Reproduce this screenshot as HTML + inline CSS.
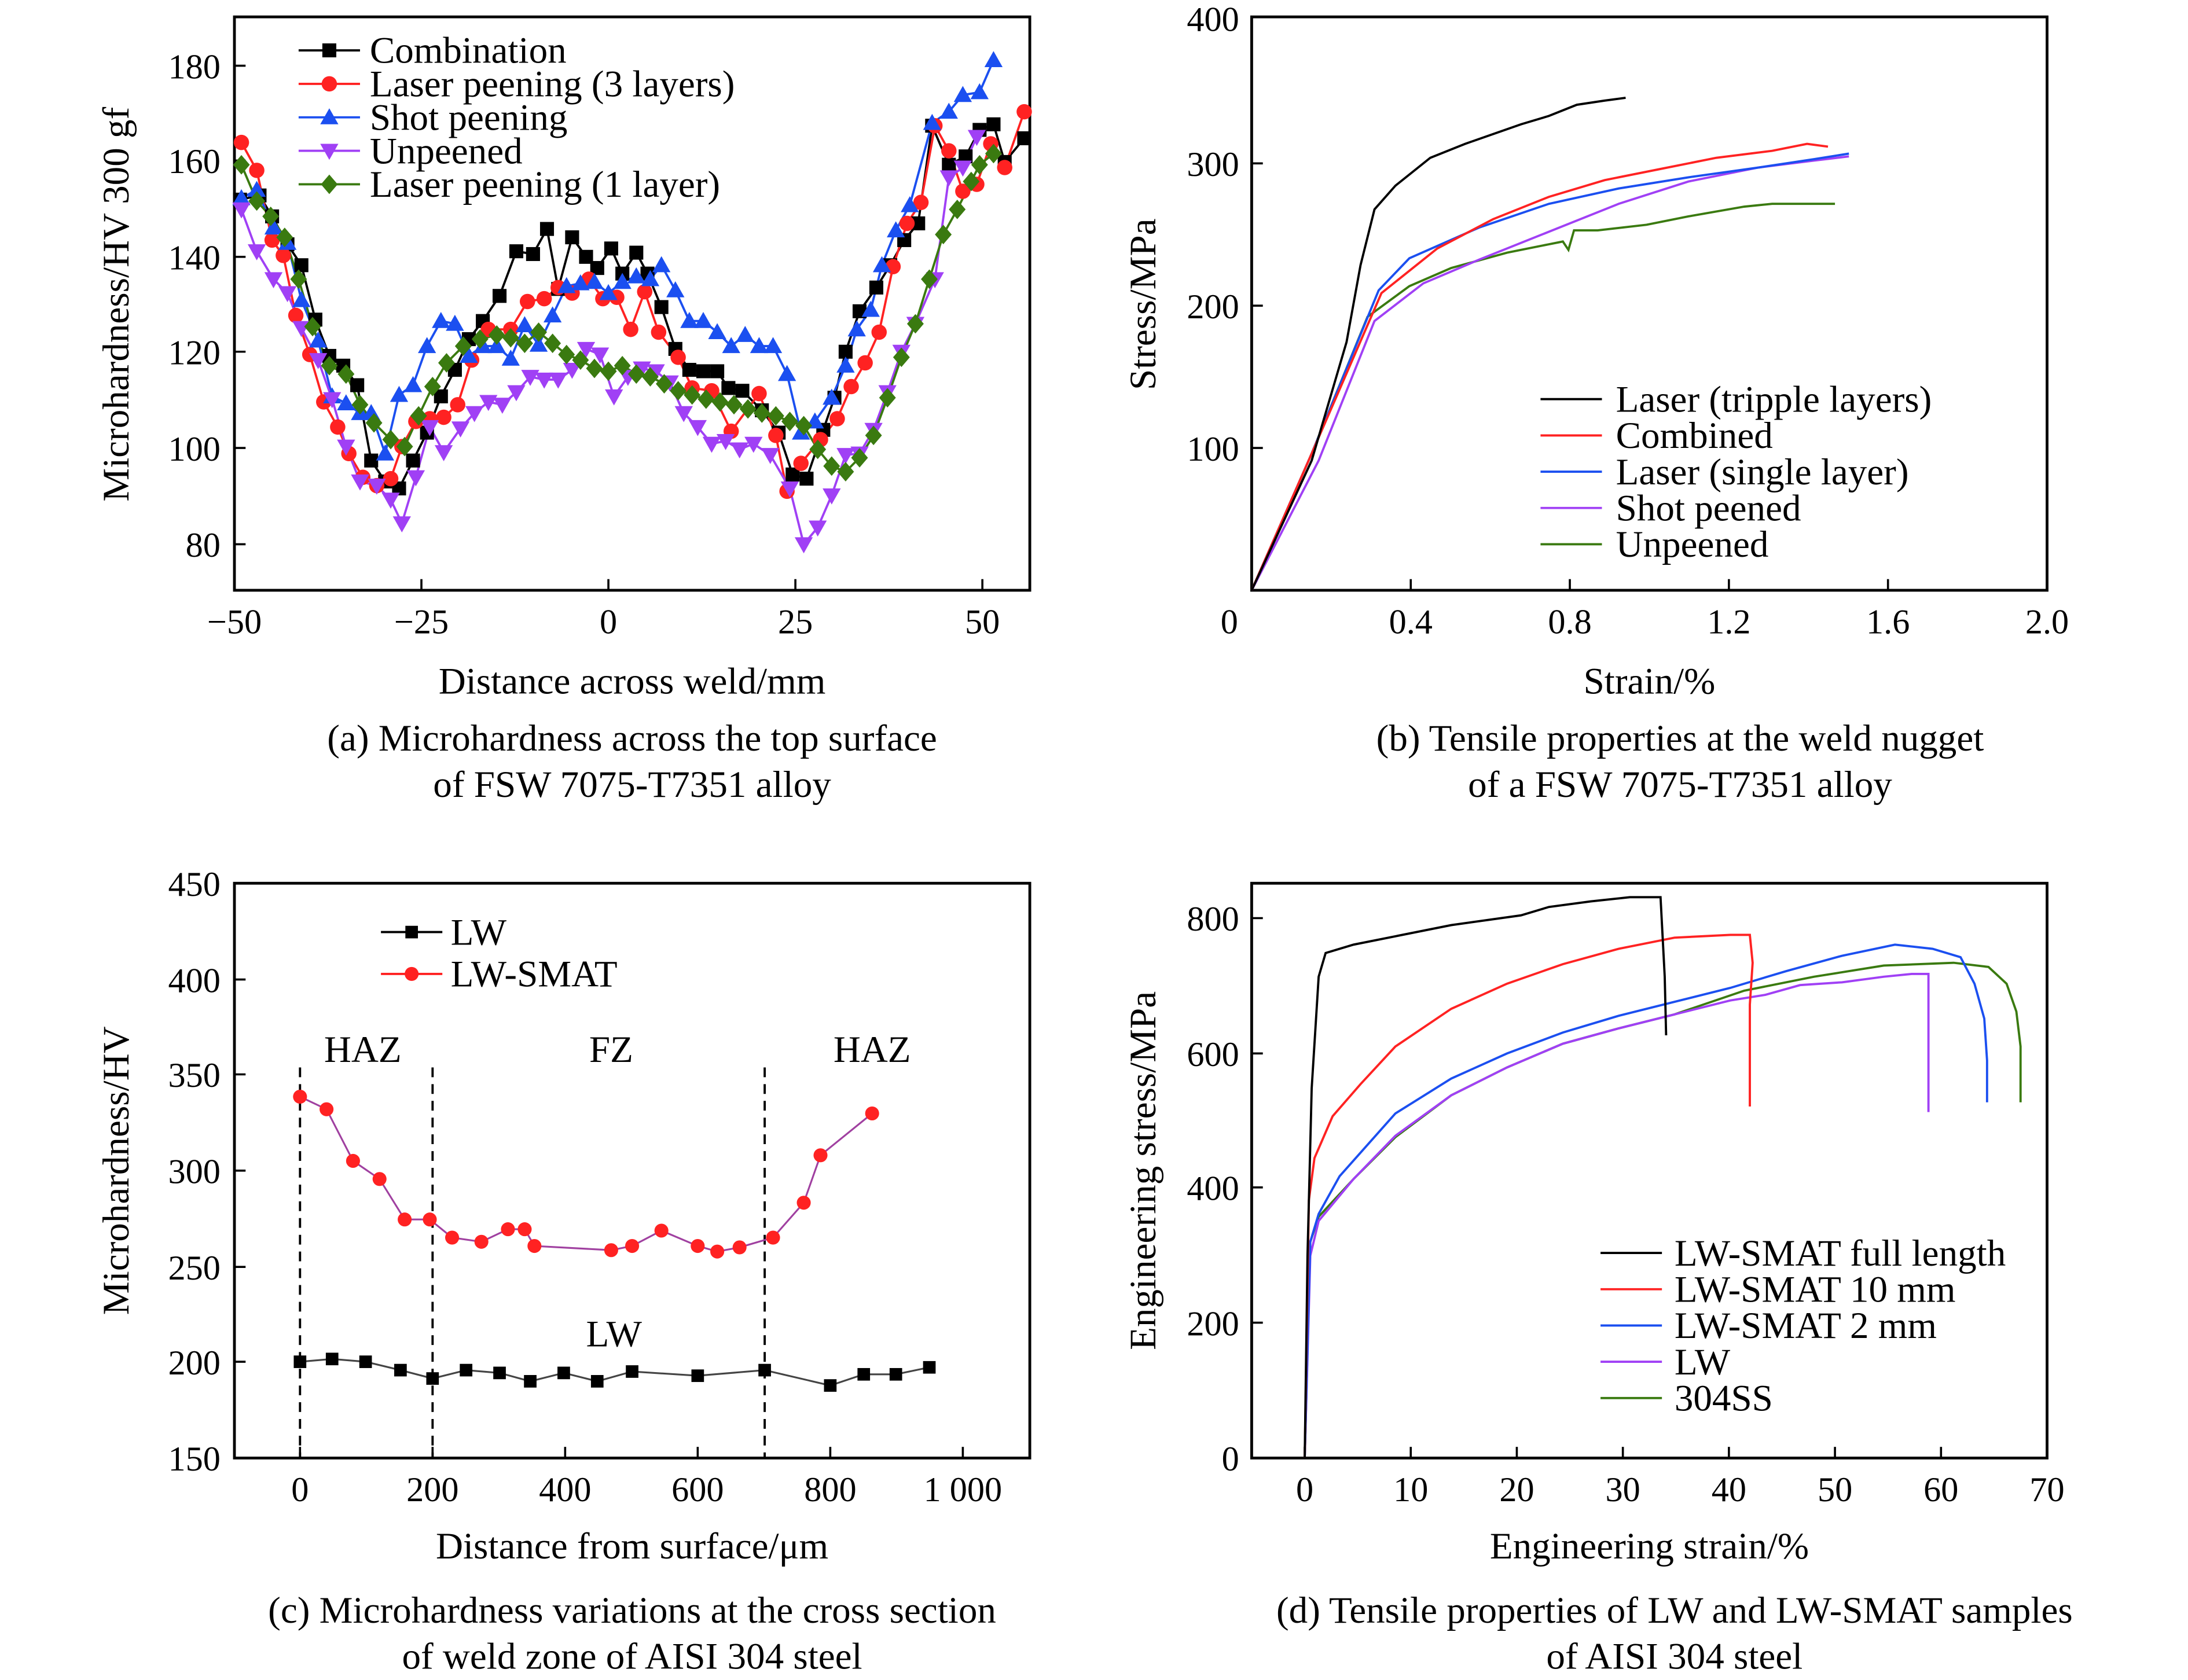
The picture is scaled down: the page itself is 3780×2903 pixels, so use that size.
<!DOCTYPE html>
<html><head><meta charset="utf-8"><style>
html,body{margin:0;padding:0;background:#fff}
svg{display:block}
text{font-family:"Liberation Serif",serif;fill:#000}
</style></head><body>
<svg width="3780" height="2903" viewBox="0 0 1568 1204" xmlns="http://www.w3.org/2000/svg">
<defs>
<rect id="sq" x="-5" y="-5" width="10" height="10" fill="#000"/>
<circle id="ci" r="5.5" fill="#f22"/>
<path id="tu" d="M0,-6.5 L6.5,5 L-6.5,5Z" fill="#1b4ff0"/>
<path id="td" d="M0,6.5 L6.5,-5 L-6.5,-5Z" fill="#a040f5"/>
<path id="di" d="M0,-7 L6,0 L0,7 L-6,0Z" fill="#3a7a10"/>
<rect id="sq2" x="-4.5" y="-4.5" width="9" height="9" fill="#000"/>
<circle id="ci2" r="5" fill="#f22"/>
</defs>
<g font-size="25">
<!-- ===== Panel a ===== -->
<rect x="168" y="12" width="570" height="411" fill="none" stroke="#000" stroke-width="2"/>
<g stroke="#000" stroke-width="1.5">
<line x1="168" y1="47" x2="176" y2="47"/><line x1="168" y1="115" x2="176" y2="115"/><line x1="168" y1="184" x2="176" y2="184"/><line x1="168" y1="252" x2="176" y2="252"/><line x1="168" y1="321" x2="176" y2="321"/><line x1="168" y1="390" x2="176" y2="390"/>
<line x1="302" y1="423" x2="302" y2="415"/><line x1="436" y1="423" x2="436" y2="415"/><line x1="570" y1="423" x2="570" y2="415"/><line x1="704" y1="423" x2="704" y2="415"/>
</g>
<g text-anchor="end"><text x="158" y="56">180</text><text x="158" y="124">160</text><text x="158" y="193">140</text><text x="158" y="261">120</text><text x="158" y="330">100</text><text x="158" y="399">80</text></g>
<g text-anchor="middle"><text x="168" y="454">−50</text><text x="302" y="454">−25</text><text x="436" y="454">0</text><text x="570" y="454">25</text><text x="704" y="454">50</text></g>
<text x="453" y="497" text-anchor="middle" font-size="27">Distance  across weld/mm</text>
<text transform="translate(92,218) rotate(-90)" text-anchor="middle" font-size="27">Microhardness/HV 300 gf</text>
<text x="453" y="538" text-anchor="middle" font-size="27">(a) Microhardness across the top surface</text>
<text x="453" y="571" text-anchor="middle" font-size="27">of FSW 7075-T7351 alloy</text>

<g fill="none" stroke-width="1.6">
<polyline id="pk" stroke="#000" points="172,143 186,140 195,155 206,175 216,190 226,229 236,255 246,262 256,276 266,330 276,345 286,350 296,330 306,310 316,284 326,265 336,243 346,230 358,212 370,180 382,182 392,164 400,207 410,170 420,184 428,192 438,178 446,196 456,181 464,196 474,220 484,250 494,265 504,266 514,266 522,278 532,280 546,294 558,310 568,340 578,343 590,308 598,285 606,252 616,223 628,206 638,190 648,172 658,160 668,90 680,118 692,112 702,93 712,89 720,116 734,99"/>
<polyline id="pr" stroke="#f22" points="173,102 184,122 195,172 203,183 212,226 222,254 232,288 242,306 250,325 260,342 270,348 280,343 288,320 298,302 308,300 318,299 328,290 338,258 350,236 366,236 378,216 390,214 400,206 410,210 422,200 432,214 442,213 452,236 462,209 472,238 486,256 496,278 510,280 524,309 544,282 556,312 564,352 574,332 588,315 600,300 610,277 620,260 630,238 640,191 650,160 660,145 670,90 680,108 690,137 700,132 710,103 720,120 734,80"/>
<polyline id="pb" stroke="#1b4ff0" points="173,142 184,136 196,163 206,174 216,215 228,244 238,284 248,289 258,296 266,296 276,325 286,283 296,276 306,248 316,230 326,232 336,255 346,248 356,248 366,257 376,233 386,247 396,226 406,205 416,203 426,202 436,210 446,202 456,198 466,200 474,190 484,208 494,230 504,230 514,238 524,248 534,240 544,248 554,248 564,268 574,310 584,302 596,285 606,262 614,236 624,222 632,190 642,165 652,147 668,88 680,80 690,68 702,66 712,43"/>
<polyline id="pp" stroke="#a040f5" points="173,150 184,180 196,200 206,210 216,235 228,258 238,286 248,320 258,345 270,348 280,358 288,375 298,342 308,306 318,324 330,307 340,296 350,288 360,290 370,281 380,270 390,272 400,272 410,265 420,250 430,254 440,284 450,270 460,264 470,266 480,274 490,296 500,306 510,318 520,316 530,322 540,318 552,326 566,350 576,390 586,378 596,355 606,326 616,325 626,308 636,281 646,252 656,232 670,200 680,127 690,120 700,98"/>
<polyline id="pg" stroke="#3a7a10" points="173,118 184,144 194,155 204,170 214,200 224,234 236,262 248,268 258,290 268,303 280,315 290,320 300,298 310,277 320,260 332,248 344,243 356,240 366,242 376,246 386,238 396,246 406,254 416,258 426,264 436,266 446,262 456,268 466,270 476,275 486,280 496,283 506,286 516,288 526,290 536,293 546,296 556,298 566,302 576,305 586,322 596,334 606,338 616,328 626,312 636,285 646,256 656,232 666,200 676,168 686,150 696,130 702,118 712,110"/>
</g>
<g id="mk"></g>
<!-- legend a -->
<g stroke-width="1.6">
<line x1="214" y1="36" x2="258" y2="36" stroke="#000"/><use href="#sq" x="236" y="36"/>
<line x1="214" y1="60" x2="258" y2="60" stroke="#f22"/><use href="#ci" x="236" y="60"/>
<line x1="214" y1="84" x2="258" y2="84" stroke="#1b4ff0"/><use href="#tu" x="236" y="84"/>
<line x1="214" y1="108" x2="258" y2="108" stroke="#a040f5"/><use href="#td" x="236" y="108"/>
<line x1="214" y1="132" x2="258" y2="132" stroke="#3a7a10"/><use href="#di" x="236" y="132"/>
</g>
<g font-size="27"><text x="265" y="45">Combination</text><text x="265" y="69">Laser peening (3 layers)</text><text x="265" y="93">Shot peening</text><text x="265" y="117">Unpeened</text><text x="265" y="141">Laser peening (1 layer)</text></g>

<!-- ===== Panel b ===== -->
<rect x="897" y="12" width="570" height="411" fill="none" stroke="#000" stroke-width="2"/>
<g stroke="#000" stroke-width="1.5">
<line x1="897" y1="321" x2="905" y2="321"/><line x1="897" y1="219" x2="905" y2="219"/><line x1="897" y1="117" x2="905" y2="117"/>
<line x1="1011" y1="423" x2="1011" y2="415"/><line x1="1125" y1="423" x2="1125" y2="415"/><line x1="1239" y1="423" x2="1239" y2="415"/><line x1="1353" y1="423" x2="1353" y2="415"/>
</g>
<g text-anchor="end"><text x="888" y="22">400</text><text x="888" y="126">300</text><text x="888" y="228">200</text><text x="888" y="330">100</text></g>
<g text-anchor="middle"><text x="881" y="454">0</text><text x="1011" y="454">0.4</text><text x="1125" y="454">0.8</text><text x="1239" y="454">1.2</text><text x="1353" y="454">1.6</text><text x="1467" y="454">2.0</text></g>
<text x="1182" y="497" text-anchor="middle" font-size="27">Strain/%</text>
<text transform="translate(828,218) rotate(-90)" text-anchor="middle" font-size="27">Stress/MPa</text>
<text x="1204" y="538" text-anchor="middle" font-size="27">(b) Tensile properties at the weld nugget</text>
<text x="1204" y="571" text-anchor="middle" font-size="27">of a FSW 7075-T7351 alloy</text>
<g fill="none" stroke-width="1.6">
<polyline stroke="#3a7a10" points="897,423 940,325 980,227 1010,205 1040,192 1080,181 1110,175 1120,173 1124,179 1128,165 1145,165 1180,161 1210,155 1250,148 1270,146 1295,146 1315,146"/>
<polyline stroke="#a040f5" points="897,423 945,330 985,230 1020,203 1060,186 1110,166 1160,146 1210,130 1260,120 1300,115 1325,112"/>
<polyline stroke="#1b4ff0" points="897,423 940,325 988,208 1010,185 1060,163 1110,146 1160,135 1210,127 1260,120 1300,114 1325,110"/>
<polyline stroke="#f22" points="897,423 940,325 990,210 1030,178 1070,157 1110,141 1150,129 1190,121 1230,113 1270,108 1295,103 1310,105"/>
<polyline stroke="#000" points="897,423 940,330 965,245 975,190 985,150 1000,133 1025,113 1050,103 1070,96 1090,89 1110,83 1130,75 1150,72 1165,70"/>
</g>
<g stroke-width="1.6">
<line x1="1104" y1="286" x2="1148" y2="286" stroke="#000"/><line x1="1104" y1="312" x2="1148" y2="312" stroke="#f22"/><line x1="1104" y1="338" x2="1148" y2="338" stroke="#1b4ff0"/><line x1="1104" y1="364" x2="1148" y2="364" stroke="#a040f5"/><line x1="1104" y1="390" x2="1148" y2="390" stroke="#3a7a10"/>
</g>
<g font-size="27"><text x="1158" y="295">Laser (tripple layers)</text><text x="1158" y="321">Combined</text><text x="1158" y="347">Laser (single layer)</text><text x="1158" y="373">Shot peened</text><text x="1158" y="399">Unpeened</text></g>

<!-- ===== Panel c ===== -->
<rect x="168" y="633" width="570" height="412" fill="none" stroke="#000" stroke-width="2"/>
<g stroke="#000" stroke-width="1.5">
<line x1="168" y1="702" x2="176" y2="702"/><line x1="168" y1="770" x2="176" y2="770"/><line x1="168" y1="839" x2="176" y2="839"/><line x1="168" y1="908" x2="176" y2="908"/><line x1="168" y1="976" x2="176" y2="976"/>
<line x1="215" y1="1045" x2="215" y2="1037"/><line x1="310" y1="1045" x2="310" y2="1037"/><line x1="405" y1="1045" x2="405" y2="1037"/><line x1="500" y1="1045" x2="500" y2="1037"/><line x1="595" y1="1045" x2="595" y2="1037"/><line x1="690" y1="1045" x2="690" y2="1037"/>
</g>
<g text-anchor="end"><text x="158" y="642">450</text><text x="158" y="711">400</text><text x="158" y="779">350</text><text x="158" y="848">300</text><text x="158" y="917">250</text><text x="158" y="985">200</text><text x="158" y="1054">150</text></g>
<g text-anchor="middle"><text x="215" y="1076">0</text><text x="310" y="1076">200</text><text x="405" y="1076">400</text><text x="500" y="1076">600</text><text x="595" y="1076">800</text><text x="690" y="1076">1 000</text></g>
<text x="453" y="1117" text-anchor="middle" font-size="27">Distance from surface/μm</text>
<text transform="translate(92,839) rotate(-90)" text-anchor="middle" font-size="27">Microhardness/HV</text>
<text x="453" y="1163" text-anchor="middle" font-size="27">(c) Microhardness variations at the cross section</text>
<text x="453" y="1196" text-anchor="middle" font-size="27">of weld zone of AISI 304 steel</text>
<g stroke="#000" stroke-width="1.6" stroke-dasharray="7,5"><line x1="215" y1="765" x2="215" y2="1045"/><line x1="310" y1="765" x2="310" y2="1045"/><line x1="548" y1="765" x2="548" y2="1045"/></g>
<g font-size="27" text-anchor="middle"><text x="260" y="761">HAZ</text><text x="438" y="761">FZ</text><text x="625" y="761">HAZ</text><text x="440" y="965">LW</text></g>
<polyline fill="none" stroke="#a040a0" stroke-width="1.3" points="215,786 234,795 253,832 272,845 290,874 308,874 324,887 345,890 364,881 376,881 383,893 438,896 453,893 474,882 500,893 514,897 530,894 554,887 576,862 588,828 625,798"/>
<g><use href="#ci2" x="215" y="786"/><use href="#ci2" x="234" y="795"/><use href="#ci2" x="253" y="832"/><use href="#ci2" x="272" y="845"/><use href="#ci2" x="290" y="874"/><use href="#ci2" x="308" y="874"/><use href="#ci2" x="324" y="887"/><use href="#ci2" x="345" y="890"/><use href="#ci2" x="364" y="881"/><use href="#ci2" x="376" y="881"/><use href="#ci2" x="383" y="893"/><use href="#ci2" x="438" y="896"/><use href="#ci2" x="453" y="893"/><use href="#ci2" x="474" y="882"/><use href="#ci2" x="500" y="893"/><use href="#ci2" x="514" y="897"/><use href="#ci2" x="530" y="894"/><use href="#ci2" x="554" y="887"/><use href="#ci2" x="576" y="862"/><use href="#ci2" x="588" y="828"/><use href="#ci2" x="625" y="798"/></g>
<polyline fill="none" stroke="#444" stroke-width="1.3" points="215,976 238,974 262,976 287,982 310,988 334,982 358,984 380,990 404,984 428,990 453,983 500,986 548,982 595,993 619,985 642,985 666,980"/>
<g><use href="#sq2" x="215" y="976"/><use href="#sq2" x="238" y="974"/><use href="#sq2" x="262" y="976"/><use href="#sq2" x="287" y="982"/><use href="#sq2" x="310" y="988"/><use href="#sq2" x="334" y="982"/><use href="#sq2" x="358" y="984"/><use href="#sq2" x="380" y="990"/><use href="#sq2" x="404" y="984"/><use href="#sq2" x="428" y="990"/><use href="#sq2" x="453" y="983"/><use href="#sq2" x="500" y="986"/><use href="#sq2" x="548" y="982"/><use href="#sq2" x="595" y="993"/><use href="#sq2" x="619" y="985"/><use href="#sq2" x="642" y="985"/><use href="#sq2" x="666" y="980"/></g>
<g stroke-width="1.6"><line x1="273" y1="668" x2="317" y2="668" stroke="#000"/><use href="#sq2" x="295" y="668"/><line x1="273" y1="698" x2="317" y2="698" stroke="#f22"/><use href="#ci2" x="295" y="698"/></g>
<g font-size="27"><text x="323" y="677">LW</text><text x="323" y="707">LW-SMAT</text></g>

<!-- ===== Panel d ===== -->
<rect x="897" y="633" width="570" height="412" fill="none" stroke="#000" stroke-width="2"/>
<g stroke="#000" stroke-width="1.5">
<line x1="897" y1="658" x2="905" y2="658"/><line x1="897" y1="755" x2="905" y2="755"/><line x1="897" y1="851" x2="905" y2="851"/><line x1="897" y1="948" x2="905" y2="948"/>
<line x1="935" y1="1045" x2="935" y2="1037"/><line x1="1011" y1="1045" x2="1011" y2="1037"/><line x1="1087" y1="1045" x2="1087" y2="1037"/><line x1="1163" y1="1045" x2="1163" y2="1037"/><line x1="1239" y1="1045" x2="1239" y2="1037"/><line x1="1315" y1="1045" x2="1315" y2="1037"/><line x1="1391" y1="1045" x2="1391" y2="1037"/>
</g>
<g text-anchor="end"><text x="888" y="667">800</text><text x="888" y="764">600</text><text x="888" y="860">400</text><text x="888" y="957">200</text><text x="888" y="1054">0</text></g>
<g text-anchor="middle"><text x="935" y="1076">0</text><text x="1011" y="1076">10</text><text x="1087" y="1076">20</text><text x="1163" y="1076">30</text><text x="1239" y="1076">40</text><text x="1315" y="1076">50</text><text x="1391" y="1076">60</text><text x="1467" y="1076">70</text></g>
<text x="1182" y="1117" text-anchor="middle" font-size="27">Engineering strain/%</text>
<text transform="translate(828,839) rotate(-90)" text-anchor="middle" font-size="27">Engineering stress/MPa</text>
<text x="1200" y="1163" text-anchor="middle" font-size="27">(d) Tensile properties of LW and LW-SMAT samples</text>
<text x="1200" y="1196" text-anchor="middle" font-size="27">of AISI 304 steel</text>
<g fill="none" stroke-width="1.6">
<polyline stroke="#3a7a10" points="935,1045 939,890 945,872 970,845 1000,815 1040,785 1080,765 1120,748 1160,737 1200,727 1250,710 1300,700 1350,692 1400,690 1425,693 1438,705 1445,725 1448,750 1448,790"/>
<polyline stroke="#a040f5" points="935,1045 939,900 945,875 970,845 1000,814 1040,785 1080,765 1120,748 1160,737 1200,727 1240,717 1265,713 1290,706 1320,704 1350,700 1370,698 1382,698 1382,797"/>
<polyline stroke="#1b4ff0" points="935,1045 939,890 945,870 960,843 1000,798 1040,773 1080,755 1120,740 1160,728 1200,718 1240,708 1280,696 1320,685 1358,677 1385,680 1405,686 1415,705 1422,730 1424,760 1424,790"/>
<polyline stroke="#f22" points="935,1045 938,860 942,830 955,800 975,777 1000,750 1040,723 1080,705 1120,691 1160,680 1200,672 1240,670 1254,670 1256,690 1254,720 1254,793"/>
<polyline stroke="#000" points="935,1045 937,900 940,780 945,700 950,683 970,677 1000,671 1040,663 1090,656 1110,650 1140,646 1168,643 1190,643 1193,700 1194,742"/>
</g>
<g stroke-width="1.6">
<line x1="1147" y1="898" x2="1191" y2="898" stroke="#000"/><line x1="1147" y1="924" x2="1191" y2="924" stroke="#f22"/><line x1="1147" y1="950" x2="1191" y2="950" stroke="#1b4ff0"/><line x1="1147" y1="976" x2="1191" y2="976" stroke="#a040f5"/><line x1="1147" y1="1002" x2="1191" y2="1002" stroke="#3a7a10"/>
</g>
<g font-size="27"><text x="1200" y="907">LW-SMAT full length</text><text x="1200" y="933">LW-SMAT 10 mm</text><text x="1200" y="959">LW-SMAT 2 mm</text><text x="1200" y="985">LW</text><text x="1200" y="1011">304SS</text></g>
</g>
<script>
(function(){
var m={pk:'sq',pr:'ci',pb:'tu',pp:'td',pg:'di'};var g=document.getElementById('mk');var ns='http://www.w3.org/2000/svg';
for(var k in m){var pts=document.getElementById(k).getAttribute('points').trim().split(/\s+/);
pts.forEach(function(p){var a=p.split(',');var u=document.createElementNS(ns,'use');u.setAttribute('href','#'+m[k]);u.setAttribute('x',a[0]);u.setAttribute('y',a[1]);g.appendChild(u);});}
})();
</script>
</svg>
</body></html>
